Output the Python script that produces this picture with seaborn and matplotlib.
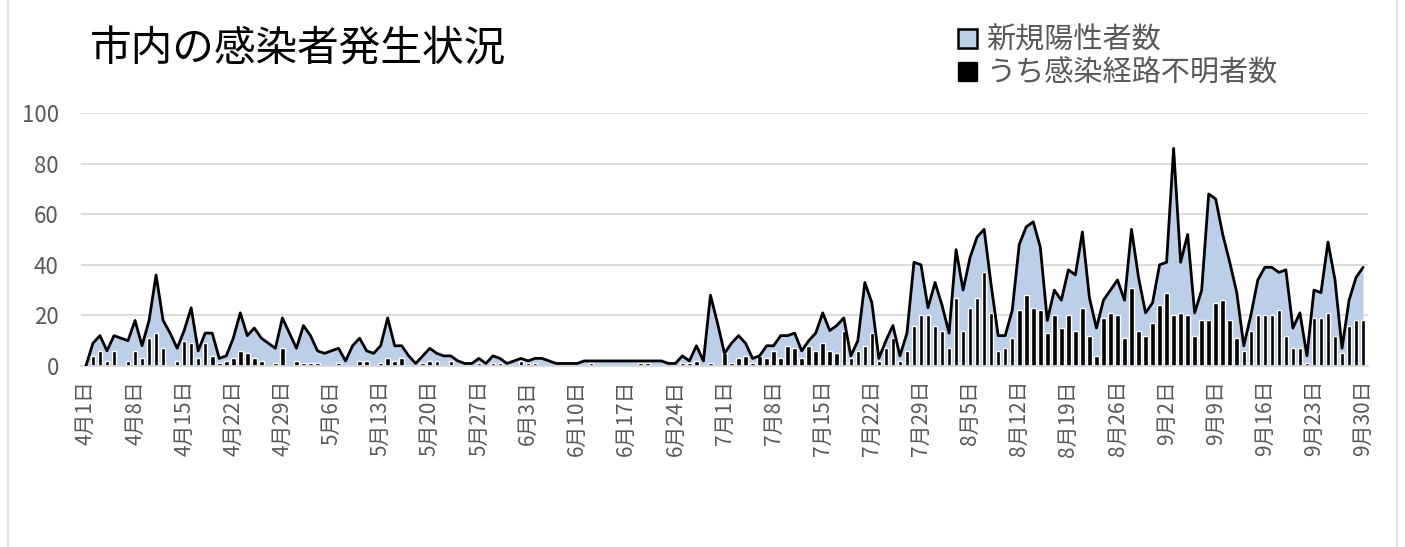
#%% import libs
import numpy as np
import pandas as pd
import matplotlib
matplotlib.use("Agg")
import matplotlib.pyplot as plt
from matplotlib.patches import Patch
import seaborn as sns

# daily data, 2020-04-01 .. 2020-09-30
start_date = "2020-04-01"
end_date = "2020-09-30"

# 新規陽性者数
new_cases = [
    0, 9, 12, 6, 12, 11, 10, 18, 8, 18, 36, 18, 13, 7, 14, 23, 6, 13, 13, 3,
    4, 11, 21, 12, 15, 11, 9, 7, 19, 13, 7, 16, 12, 6, 5, 6, 7, 2, 8, 11,
    6, 5, 8, 19, 8, 8, 4, 1, 4, 7, 5, 4, 4, 2, 1, 1, 3, 1, 4, 3,
    1, 2, 3, 2, 3, 3, 2, 1, 1, 1, 1, 2, 2, 2, 2, 2, 2, 2, 2, 2,
    2, 2, 2, 1, 1, 4, 2, 8, 2, 28, 17, 5, 9, 12, 9, 3, 4, 8, 8, 12,
    12, 13, 6, 10, 13, 21, 14, 16, 19, 4, 10, 33, 25, 3, 10, 16, 4, 13, 41, 40,
    23, 33, 24, 13, 46, 30, 43, 51, 54, 32, 12, 12, 22, 48, 55, 57, 47, 18, 30, 26,
    38, 36, 53, 27, 15, 26, 30, 34, 26, 54, 35, 21, 25, 40, 41, 86, 41, 52, 21, 30,
    68, 66, 52, 41, 29, 8, 20, 34, 39, 39, 37, 38, 15, 21, 4, 30, 29, 49, 34, 7,
    26, 35, 39,
]

# うち感染経路不明者数
unknown_route = [
    0, 4, 6, 2, 6, 0, 2, 6, 3, 11, 13, 7, 0, 2, 10, 9, 3, 9, 4, 1,
    2, 3, 6, 5, 3, 2, 0, 1, 7, 0, 2, 1, 1, 1, 0, 0, 1, 0, 0, 2,
    2, 0, 1, 3, 2, 3, 0, 0, 1, 2, 2, 0, 2, 0, 0, 0, 1, 0, 1, 1,
    0, 0, 2, 1, 1, 0, 0, 0, 0, 0, 0, 0, 1, 0, 0, 0, 0, 0, 0, 1,
    1, 0, 0, 0, 0, 1, 1, 2, 0, 1, 0, 5, 1, 3, 4, 1, 4, 3, 6, 3,
    8, 7, 3, 8, 6, 9, 6, 5, 14, 3, 6, 8, 13, 2, 7, 11, 2, 6, 16, 20,
    20, 16, 14, 7, 27, 14, 23, 27, 37, 21, 6, 7, 11, 22, 28, 23, 22, 13, 20, 15,
    20, 14, 23, 12, 4, 19, 21, 20, 11, 31, 14, 12, 17, 24, 29, 20, 21, 20, 12, 18,
    18, 25, 26, 18, 11, 6, 14, 20, 20, 20, 22, 12, 7, 7, 1, 19, 19, 21, 12, 5,
    16, 18, 18,
]

title = "市内の感染者発生状況"
label_new = "新規陽性者数"
label_unknown = "うち感染経路不明者数"

dates = pd.date_range(start_date, end_date, freq="D")
df = pd.DataFrame({
    "day": np.arange(len(dates)),
    "new": new_cases,
    "unknown": unknown_route,
})

# tick labels every 7 days
tick_days = df["day"][::7].tolist()
tick_labels = [f"{d.month}月{d.day}日" for d in dates[::7]]

#%% plot
sns.set_style("white")
plt.rcParams["font.family"] = ["Noto Sans CJK JP", "DejaVu Sans"]

fig = plt.figure(figsize=(14.05, 5.47), dpi=100)
ax = fig.add_axes([81 / 1405, 181 / 547, 1287 / 1405, 253 / 547])

fill_col = "#bccfe8"
ax.fill_between(df["day"], df["new"], color=fill_col, lw=0, zorder=1)
sns.barplot(data=df, x="day", y="unknown", native_scale=True, color="black",
            width=0.65, errorbar=None, saturation=1, ax=ax, zorder=2)
sns.lineplot(data=df, x="day", y="new", color="black", lw=2.0, ax=ax, zorder=3)

ax.set_xlim(-0.7, len(df) - 0.3)
ax.set_ylim(0, 100)
ax.set_yticks([0, 20, 40, 60, 80, 100])
ax.yaxis.grid(True, color="#d9d9d9", lw=1.3, zorder=0)
ax.set_axisbelow(True)
for s in ["top", "right", "left"]:
    ax.spines[s].set_visible(False)
ax.spines["bottom"].set_color("#d9d9d9")
ax.spines["bottom"].set_linewidth(1.3)

ax.set_xticks(tick_days)
ax.set_xticklabels(tick_labels, rotation=90)
ax.tick_params(axis="x", colors="#595959", labelsize=15, length=6,
               width=1.2, color="#d9d9d9", pad=4)
ax.tick_params(axis="y", colors="#595959", labelsize=16, length=0, pad=16)
ax.set_xlabel("")
ax.set_ylabel("")

fig.text(90 / 1405, 1 - 50 / 547, title, fontsize=30, va="center", ha="left",
         color="black")

handles = [Patch(facecolor=fill_col, edgecolor="black", lw=1.8),
           Patch(facecolor="black", edgecolor="black")]
fig.legend(handles, [label_new, label_unknown], loc="upper left",
           bbox_to_anchor=(958 / 1405, 1 - 26 / 547), frameon=False,
           fontsize=21, labelcolor="#595959", handlelength=0.65,
           handleheight=0.65, handletextpad=0.3, labelspacing=0.1,
           borderaxespad=0, borderpad=0)

# chart frame
fig.add_artist(plt.Line2D([8 / 1405, 8 / 1405], [0, 1], color="#d9d9d9", lw=1.2))
fig.add_artist(plt.Line2D([1397 / 1405, 1397 / 1405], [0, 1], color="#d9d9d9", lw=1.2))

fig.savefig("out.png", dpi=100)
